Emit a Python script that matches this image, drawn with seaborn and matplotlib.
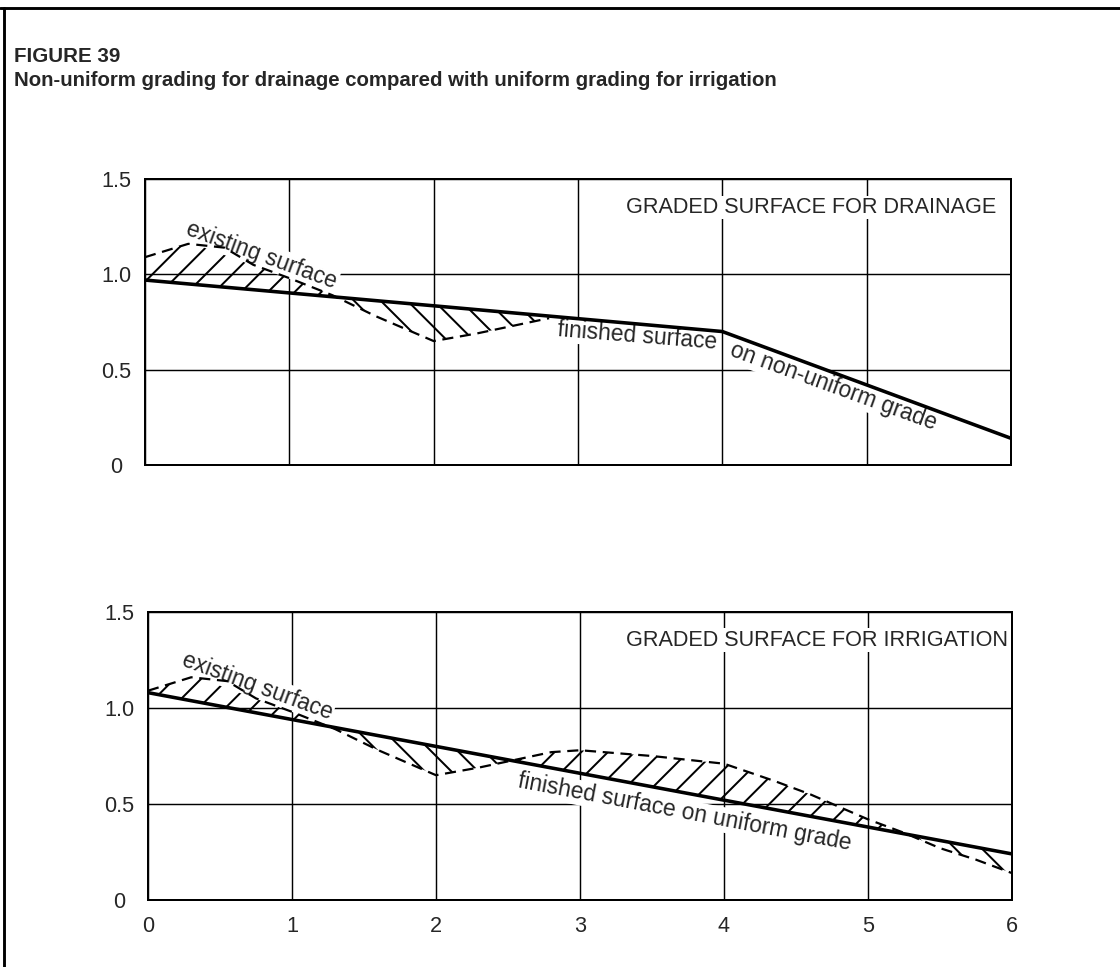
import numpy as np
import matplotlib
matplotlib.use('Agg')
import matplotlib.pyplot as plt
import seaborn as sns
from matplotlib.lines import Line2D

# existing ground surface (same terrain in both panels)
existing_x = [0, 0.3, 0.55, 0.75, 1.0, 1.3, 1.6, 2.0, 2.3, 2.55, 2.8, 3.0, 3.5,
              4.0, 4.35, 4.6, 5.0, 5.25, 5.5, 5.75, 6.0]
existing_y = [1.09, 1.16, 1.14, 1.05, 0.98, 0.89, 0.78, 0.65, 0.69, 0.73, 0.77,
              0.78, 0.75, 0.71, 0.62, 0.55, 0.42, 0.35, 0.27, 0.21, 0.14]

# finished surfaces
drain_x = [0, 4, 6]
drain_y = [0.97, 0.70, 0.14]
irrig_x = [0, 6]
irrig_y = [1.08, 0.24]

# top panel only shows the existing surface where it departs from the grade
drain_existing_end = 2.8

x_ticks = [0, 1, 2, 3, 4, 5, 6]
x_labels = ['0', '1', '2', '3', '4', '5', '6']
y_ticks = [0, 0.5, 1.0, 1.5]
y_labels = ['0', '0.5', '1.0', '1.5']

sns.set_style('white')
plt.rcParams['font.family'] = ['Liberation Sans', 'DejaVu Sans']
plt.rcParams['hatch.linewidth'] = 1.8

W, H = 1120, 967
fig = plt.figure(figsize=(W / 80, H / 80), dpi=80)

ax1 = fig.add_axes([145 / W, 1 - 465 / H, 866 / W, 286 / H])
ax2 = fig.add_axes([148 / W, 1 - 900 / H, 864 / W, 288 / H])

label_kw = dict(fontsize=20.5, ha='center', va='center', rotation_mode='anchor',
                bbox=dict(fc='white', ec='none', pad=1), zorder=2.5)


def setup(ax, show_x):
    ax.set_xlim(0, 6)
    ax.set_ylim(0, 1.5)
    ax.set_xticks(x_ticks)
    ax.set_yticks(y_ticks)
    ax.set_yticklabels(y_labels, ha='center')
    if show_x:
        ax.set_xticklabels(x_labels)
    else:
        ax.set_xticklabels([])
    ax.tick_params(axis='y', length=0, pad=26, labelsize=19.5)
    ax.tick_params(axis='x', length=0, pad=14, labelsize=19.5)
    ax.grid(True, color='black', lw=1.3)
    ax.set_axisbelow(True)
    for s in ax.spines.values():
        s.set_color('black')
        s.set_linewidth(1.8)
    ax.set_xlabel('')
    ax.set_ylabel('')


def hatch_between(ax, ex, ey, fx, fy):
    ex = np.asarray(ex)
    ey = np.asarray(ey)
    fin = np.interp(ex, fx, fy)
    # cut = existing above grade, fill = existing below grade
    ax.fill_between(ex, ey, fin, where=ey >= fin, interpolate=True,
                    facecolor='none', edgecolor='black', hatch='/', lw=0, zorder=2)
    ax.fill_between(ex, ey, fin, where=ey <= fin, interpolate=True,
                    facecolor='none', edgecolor='black', hatch='\\', lw=0, zorder=2)


# ---- top: drainage ----
ex = np.array(existing_x)
ey = np.array(existing_y)
keep = ex <= drain_existing_end
hatch_between(ax1, ex[keep], ey[keep], drain_x, drain_y)
sns.lineplot(x=ex[keep], y=ey[keep], ax=ax1, color='black', lw=2.0,
             linestyle=(0, (5, 3)), zorder=3)
sns.lineplot(x=drain_x, y=drain_y, ax=ax1, color='black', lw=3.2, zorder=4)
setup(ax1, False)
ax1.text(0.81, 1.10, 'existing surface', rotation=-20, **label_kw)
ax1.text(3.41, 0.676, 'finished surface', rotation=-4.6, **label_kw)
ax1.text(4.77, 0.41, 'on non-uniform grade', rotation=-20, **label_kw)
ax1.text(5.9, 1.35, 'GRADED SURFACE FOR DRAINAGE', fontsize=19.5, ha='right',
         va='center', bbox=dict(fc='white', ec='none', pad=1), zorder=2.5)

# ---- bottom: irrigation ----
hatch_between(ax2, existing_x, existing_y, irrig_x, irrig_y)
sns.lineplot(x=existing_x, y=existing_y, ax=ax2, color='black', lw=2.0,
             linestyle=(0, (5, 3)), zorder=3)
sns.lineplot(x=irrig_x, y=irrig_y, ax=ax2, color='black', lw=3.2, zorder=4)
setup(ax2, True)
ax2.text(0.76, 1.115, 'existing surface', rotation=-20, **label_kw)
ax2.text(3.73, 0.455, 'finished surface on uniform grade', rotation=-10.7, **label_kw)
ax2.text(5.97, 1.354, 'GRADED SURFACE FOR IRRIGATION', fontsize=19.5, ha='right',
         va='center', bbox=dict(fc='white', ec='none', pad=1), zorder=2.5)

# heading
fig.text(14 / W, 1 - 57 / H, 'FIGURE 39', fontweight='bold',
         fontsize=18.5, ha='left', va='center')
fig.text(14 / W, 1 - 81 / H,
         'Non-uniform grading for drainage compared with uniform grading for irrigation',
         fontweight='bold', fontsize=18.3, ha='left', va='center')

# page frame (left and top rules)
fig.add_artist(Line2D([4 / W, 4 / W], [0, 1 - 8 / H], transform=fig.transFigure,
                      color='black', lw=2.6))
fig.add_artist(Line2D([0, 1], [1 - 8 / H, 1 - 8 / H], transform=fig.transFigure,
                      color='black', lw=2.6))

fig.savefig('out.png', dpi=80)
